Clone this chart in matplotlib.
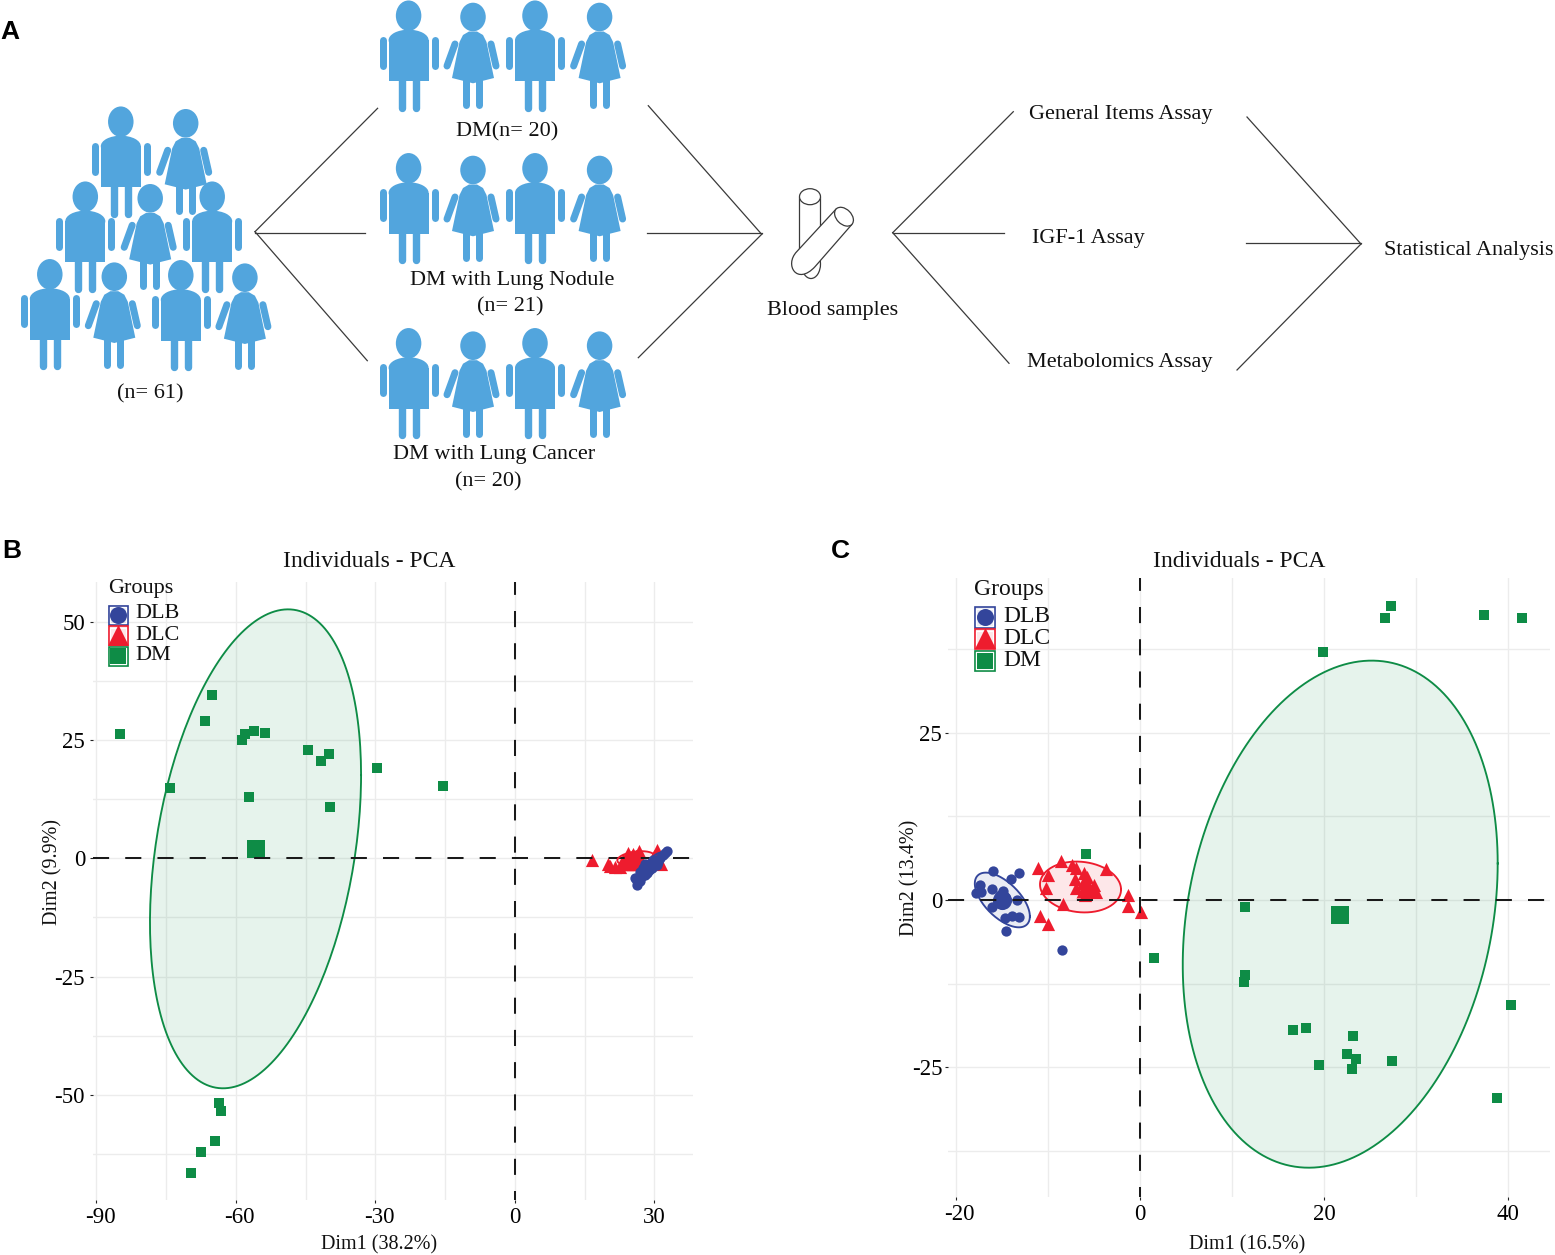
import numpy as np
import matplotlib
matplotlib.use('Agg')
import matplotlib.pyplot as plt
from matplotlib.patches import Ellipse, Polygon, PathPatch, Rectangle
from matplotlib.path import Path
from matplotlib.ticker import MultipleLocator
from matplotlib.transforms import ScaledTranslation

plt.rcParams['font.family'] = ['Liberation Serif', 'DejaVu Serif']
plt.rcParams['axes.unicode_minus'] = False

W, H = 1555, 1255

# panel B values
b_dm_x = [-85.0, -74.1, -65.2, -66.7, -58.7, -58.1, -56.2, -53.8, -57.1, -44.5,
          -41.8, -39.9, -39.8, -29.6, -15.5, -63.7, -63.2, -64.6, -67.5, -69.6]
b_dm_y = [26.3, 14.9, 34.4, 29.1, 24.9, 26.3, 26.8, 26.5, 13.0, 22.8,
          20.6, 22.1, 10.9, 19.1, 15.2, -51.6, -53.5, -59.7, -62.0, -66.4]
b_dlc_x = [16.6, 20.1, 21.4, 20.4, 24.4, 25.4, 26.7, 26.5, 25.4, 24.0, 22.6,
           24.7, 30.5, 31.5, 25.8, 23.3, 27.2, 29.8, 25.1, 26.2, 23.9]
b_dlc_y = [-0.4, -1.2, -1.9, -1.6, 1.05, 0.9, 1.5, -0.7, -1.1, -1.1, -1.8,
           -0.4, 1.75, -1.1, 0.0, -0.4, -0.4, 0.5, 0.5, 0.5, 0.0]
b_dlb_x = [26.3, 26.9, 25.8, 27.2, 28.3, 29.4, 30.5, 31.2, 31.9, 32.6,
           28.7, 28.0, 26.2, 29.7, 28.0, 29.7, 26.9, 30.8, 32.3, 29.0, 27.6]
b_dlb_y = [-5.6, -4.9, -4.2, -3.9, -3.2, -2.1, -1.4, 0.0, 0.7, 1.5,
           -2.5, -3.5, -4.9, -1.4, -1.1, -0.4, -2.8, -0.7, 1.2, -1.4, -2.1]
b_mean_x = [29.0, 26.0, -55.8]
b_mean_y = [-1.7, -0.3, 2.0]
# centre x, centre y, half width, half height, correlation
b_ell_dlb = [29.2, -1.8, 2.7, 3.0, 0.8]
b_ell_dlc = [26.0, 0.0, 4.0, 1.5, 0.3]
b_ell_dm = [-55.8, 2.0, 22.7, 50.6, 0.308]

# panel C values
c_dm_x = [27.25, 26.6, 37.3, 41.5, 19.9, 11.4, 1.56, 11.4, 11.3, 16.65,
          18.0, 23.1, 22.5, 23.45, 27.4, 19.4, 23.0, 40.3, 38.8, -5.86]
c_dm_y = [44.0, 42.1, 42.6, 42.2, 37.1, -1.0, -8.6, -11.2, -12.2, -19.5,
          -19.2, -20.4, -23.0, -23.8, -24.0, -24.6, -25.3, -15.7, -29.6, 6.9]
c_dlb_x = [-16.0, -13.1, -14.0, -17.4, -16.1, -17.8, -17.3, -14.9, -14.7, -15.2,
           -13.4, -16.1, -14.8, -14.7, -13.9, -13.1, -14.6, -8.5, -15.4, -14.5]
c_dlb_y = [4.4, 4.1, 3.1, 2.2, 1.7, 1.1, 1.2, 1.3, 0.4, 0.75,
           0.0, -1.1, -0.5, -2.7, -2.4, -2.5, -4.6, -7.5, -0.25, 0.0]
c_dlc_x = [-11.1, -8.6, -9.95, -10.2, -7.4, -6.95, -3.7, -6.1, -7.05, -5.8, -6.95,
           -6.15, -5.05, -4.8, -5.95, -8.4, -10.85, -9.95, -1.25, -1.35, 0.15]
c_dlc_y = [4.8, 5.9, 3.7, 1.75, 5.2, 4.8, 4.6, 4.1, 3.2, 3.4, 1.75,
           2.5, 2.2, 1.25, 0.75, -0.6, -2.4, -3.6, 0.7, -0.9, -1.85]
c_mean_x = [-14.95, -5.8, 21.7]
c_mean_y = [0.0, 2.0, -2.2]
c_ell_dlb = [-14.95, 0.0, 2.99, 4.09, -0.6]
c_ell_dlc = [-6.46, 1.94, 4.4, 3.8, -0.1]
c_ell_dm = [21.74, -2.12, 17.1, 37.9, 0.2]

groups = ['DLB', 'DLC', 'DM']
BLUE, RED, GREEN = '#33459B', '#EE1C2E', '#0E8C46'
PERSON = '#52A5DD'
LINE = '#3A3A3A'

fig = plt.figure(figsize=(W / 100, H / 100), dpi=100)


def px_axes(left, right, top, bottom):
    return fig.add_axes([left / W, 1 - bottom / H, (right - left) / W, (bottom - top) / H])


def ellipse(ax, params, color, z=1):
    cx, cy, a, b, rho = params
    t = np.linspace(0, 2 * np.pi, 200)
    x = cx + a * np.cos(t)
    y = cy + b * np.cos(t - np.arccos(rho))
    ax.fill(x, y, color=color, alpha=0.1, lw=0, zorder=z)
    ax.plot(x, y, color=color, lw=1.35, zorder=z + 3)


def pca_panel(ax, xlim, ylim, xstep, ystep, title, title_x, title_pad, xlab, ylab, xlab_pos, ylab_pos, ypad):
    ax.set_xlim(xlim)
    ax.set_ylim(ylim)
    for s in ax.spines.values():
        s.set_visible(False)
    ax.xaxis.set_major_locator(MultipleLocator(xstep))
    ax.xaxis.set_minor_locator(MultipleLocator(xstep / 2))
    ax.yaxis.set_major_locator(MultipleLocator(ystep))
    ax.yaxis.set_minor_locator(MultipleLocator(ystep / 2))
    ax.grid(True, which='both', color='#ECECEC', lw=1.0, zorder=0)
    ax.set_axisbelow(True)
    ax.tick_params(which='minor', length=0)
    ax.tick_params(which='major', length=2.2, width=0.8, labelsize=16.5, color='#222222')
    ax.tick_params(axis='x', which='major', pad=2.5)
    ax.tick_params(axis='y', which='major', pad=ypad)
    ax.set_title(title, x=title_x, y=1.0, fontsize=17, pad=title_pad, color='#111111')
    # the dashed zero lines run over the points
    ax.plot(xlim, [0, 0], color='#1A1A1A', lw=1.45, ls=(0, (8, 8)), zorder=8)
    ax.plot([0, 0], [ylim[1], ylim[0]], color='#1A1A1A', lw=1.45, ls=(1.6, (8, 8)), zorder=8)
    fig.text(xlab_pos[0] / W, 1 - xlab_pos[1] / H, xlab, fontsize=14.5, ha='center', va='center', color='#111111')
    fig.text(ylab_pos[0] / W, 1 - ylab_pos[1] / H, ylab, fontsize=14.5, ha='center', va='center',
             rotation=90, color='#111111')


def shift_negative_labels(ax, dx):
    ax.figure.canvas.draw()
    for lab in ax.get_xticklabels():
        if lab.get_text().startswith('-'):
            lab.set_transform(lab.get_transform() + ScaledTranslation(dx / 100, 0, fig.dpi_scale_trans))


# panel B
axb = px_axes(93, 693, 582, 1200)
pca_panel(axb, (-90.75, 38.28), (-72.2, 58.38), 30, 25, 'Individuals - PCA', 0.46, 11,
          'Dim1 (38.2%)', 'Dim2 (9.9%)', (379, 1245), (53, 872), 3.5)
ellipse(axb, b_ell_dm, GREEN)
axb.scatter(b_dlc_x, b_dlc_y, marker='^', s=90, color=RED, lw=0, zorder=5)
axb.scatter(b_mean_x[1], b_mean_y[1], marker='^', s=240, color=RED, lw=0, zorder=5)
axb.scatter(b_dm_x, b_dm_y, marker='s', s=50, color=GREEN, lw=0, zorder=5)
axb.scatter(b_mean_x[2], b_mean_y[2], marker='s', s=160, color=GREEN, lw=0, zorder=5)
ellipse(axb, b_ell_dlc, RED, z=5)
axb.scatter(b_dlb_x, b_dlb_y, marker='o', s=55, color=BLUE, lw=0, zorder=9)
axb.scatter(b_mean_x[0], b_mean_y[0], marker='o', s=110, color=BLUE, lw=0, zorder=9)
ellipse(axb, b_ell_dlb, BLUE, z=6)
shift_negative_labels(axb, 3.5)

# panel C
axc = px_axes(948, 1550, 578, 1197)
pca_panel(axc, (-20.85, 44.52), (-44.4, 48.13), 20, 25, 'Individuals - PCA', 0.484, 8,
          'Dim1 (16.5%)', 'Dim2 (13.4%)', (1247, 1245), (910, 878), 2)
ellipse(axc, c_ell_dm, GREEN)
ellipse(axc, c_ell_dlb, BLUE)
ellipse(axc, c_ell_dlc, RED)
axc.scatter(c_dlb_x, c_dlb_y, marker='o', s=55, color=BLUE, lw=0, zorder=5)
axc.scatter(c_mean_x[0], c_mean_y[0], marker='o', s=190, color=BLUE, lw=0, zorder=5)
axc.scatter(c_dlc_x, c_dlc_y, marker='^', s=90, color=RED, lw=0, zorder=5)
axc.scatter(c_mean_x[1], c_mean_y[1], marker='^', s=250, color=RED, lw=0, zorder=5)
axc.scatter(c_dm_x, c_dm_y, marker='s', s=50, color=GREEN, lw=0, zorder=5)
axc.scatter(c_mean_x[2], c_mean_y[2], marker='s', s=160, color=GREEN, lw=0, zorder=5)
shift_negative_labels(axc, 3.5)

# schematic and legends, in reference pixels
ov = fig.add_axes([0, 0, 1, 1], zorder=20)
ov.set_xlim(0, W)
ov.set_ylim(H, 0)
ov.axis('off')
ov.patch.set_alpha(0)


def limb(x0, y0, x1, y1, w=7.0):
    ov.plot([x0, x1], [y0, y1], color=PERSON, lw=w * 0.72, solid_capstyle='round', zorder=2)


def man(cx, cy):
    ov.add_patch(Ellipse((cx, cy), 25.5, 30.5, color=PERSON, lw=0, zorder=2))
    ov.add_patch(Ellipse((cx, cy + 24.5), 40, 21, color=PERSON, lw=0, zorder=2))
    ov.add_patch(Rectangle((cx - 20, cy + 24.5), 40, 40.8, color=PERSON, lw=0, zorder=2))
    limb(cx - 26, cy + 24, cx - 26, cy + 50)
    limb(cx + 26, cy + 24, cx + 26, cy + 50)
    limb(cx - 7, cy + 62, cx - 7, cy + 92, 7.4)
    limb(cx + 7, cy + 62, cx + 7, cy + 92, 7.4)


def woman(cx, cy):
    ov.add_patch(Ellipse((cx, cy), 25.5, 28.6, color=PERSON, lw=0, zorder=2))
    ov.add_patch(Polygon([(cx - 4, cy + 14.5), (cx + 4, cy + 14.5), (cx + 10, cy + 18), (cx + 13.5, cy + 25),
                          (cx + 21, cy + 61), (cx, cy + 66.3), (cx - 21, cy + 61), (cx - 13.5, cy + 25),
                          (cx - 10, cy + 18)], closed=True, color=PERSON, lw=0, zorder=2))
    limb(cx - 18, cy + 27, cx - 26, cy + 49)
    limb(cx + 18, cy + 27, cx + 23, cy + 49)
    limb(cx - 7, cy + 62, cx - 7, cy + 88, 7.0)
    limb(cx + 6, cy + 62, cx + 6, cy + 88, 7.0)


for row_man, row_woman in [(15.7, 17), (168.3, 170), (343.3, 345.7)]:
    man(408.6, row_man)
    woman(473, row_woman)
    man(535, row_man)
    woman(599.6, row_woman)
man(120.8, 121.7)
woman(185.7, 123.3)
man(85.3, 196.7)
woman(150.2, 198.3)
man(212.2, 196.7)
man(49.8, 274.3)
woman(114.3, 276.7)
man(180.8, 275.3)
woman(244.9, 277.7)

# connecting fans: apex, then the three far ends
fans = [((255, 231.7), [(377.6, 108.3), (365.3, 232.7), (367.3, 360.7)]),
        ((761.7, 234.3), [(648.3, 105.7), (647.3, 232.7), (638.3, 357.7)]),
        ((892.7, 232.7), [(1013.3, 111.7), (1004, 232.7), (1009, 363.3)]),
        ((1361, 244), [(1247, 117), (1246, 243), (1237, 370)])]
for apex, ends in fans:
    for e in ends:
        y0 = e[1] if abs(e[1] - apex[1]) < 5 else apex[1]
        ov.plot([apex[0], e[0]], [y0, e[1]], color=LINE, lw=0.9, zorder=1)

# test tubes
ov.add_patch(Rectangle((799.3, 196.7), 21, 60, fc='white', ec=LINE, lw=0.9, zorder=3))
ov.add_patch(Ellipse((810, 196.7), 21, 16, fc='white', ec=LINE, lw=0.9, zorder=3))
ov.add_patch(Ellipse((811, 264), 19, 29, fc='white', ec=LINE, lw=0.9, zorder=3))
tube = Path([(836.2, 208.9), (796.7, 251.7), (784, 265), (797, 286), (815, 266.7), (851.8, 224.5), (836.2, 208.9)],
            [Path.MOVETO, Path.LINETO, Path.CURVE4, Path.CURVE4, Path.CURVE4, Path.LINETO, Path.CLOSEPOLY])
ov.add_patch(PathPatch(tube, fc='white', ec=LINE, lw=0.9, zorder=4))
ov.add_patch(Ellipse((844, 216.7), 22, 15, angle=45, fc='white', ec=LINE, lw=0.9, zorder=4))

labels_a = [('(n= 61)', 150, 394), ('DM(n= 20)', 507, 132), ('DM with Lung Nodule', 512, 280),
            ('(n= 21)', 510, 307), ('DM with Lung Cancer', 494.5, 455), ('(n= 20)', 488, 482),
            ('Blood samples', 833, 310), ('General Items Assay', 1121, 115), ('IGF-1 Assay', 1088, 238),
            ('Metabolomics Assay', 1120, 362), ('Statistical Analysis', 1469, 250)]
for txt, x, y in labels_a:
    ov.text(x, y, txt, fontsize=16, ha='center', va='center', color='#111111', zorder=5)

for txt, x, y in [('A', 0, 32), ('B', 2, 551), ('C', 831, 551)]:
    ov.text(x, y, txt, fontsize=19, fontweight='bold', family=['Liberation Sans'], ha='left', va='center', color='black')


def legend_keys(x0, tops, size, text_x, text_ys, groups_y, fs):
    ov.text(x0, groups_y, 'Groups', fontsize=fs, ha='left', va='center', color='#111111')
    cols = [BLUE, RED, GREEN]
    marks = ['o', '^', 's']
    for i, g in enumerate(groups):
        c = cols[i]
        ov.add_patch(Rectangle((x0, tops[i]), size, size, fc=c, alpha=0.1, lw=0, zorder=6))
        ov.add_patch(Rectangle((x0 + 0.7, tops[i] + 0.7), size - 1.4, size - 1.4, fc='none', ec=c, lw=1.2, zorder=7))
        ov.add_patch(Rectangle((x0 + 2.2, tops[i] + 2.2), size - 4.4, size - 4.4, fc='none', ec='white', lw=0.8, zorder=7))
        ov.scatter(x0 + size / 2, tops[i] + size / 2 + (-1 if i == 1 else 0), marker=marks[i],
                   s=[150, 230, 120][i], color=c, lw=0, zorder=8)
        ov.text(text_x, text_ys[i], g, fontsize=fs, ha='left', va='center', color='#111111', zorder=9)


legend_keys(108, [605, 625.5, 646], 20.5, 135, [614, 635, 656], 588, 16)
legend_keys(974, [606.7, 628.3, 650], 21.5, 1003, [616, 638, 661], 589, 17)

fig.savefig('out.png', dpi=100)
